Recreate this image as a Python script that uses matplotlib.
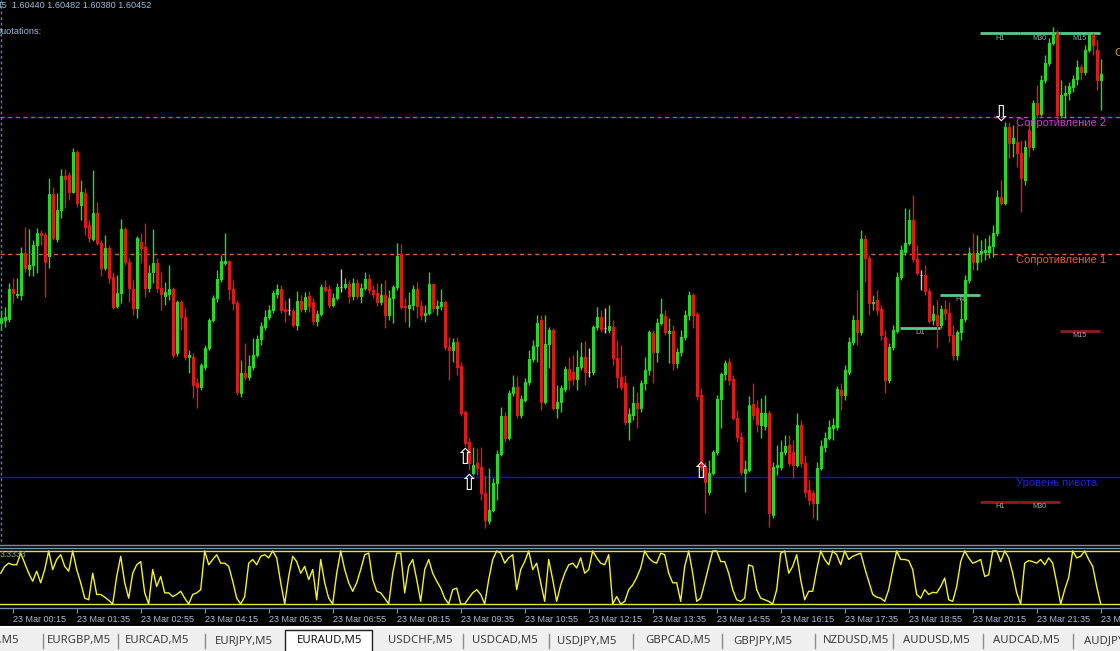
import numpy as np
import matplotlib
matplotlib.use("Agg")
import matplotlib.pyplot as plt
from matplotlib.patches import Rectangle
from matplotlib.lines import Line2D

# ---------------- data ----------------
symbol = "EURAUD,M5"
opens = [
    1.59954, 1.59960, 1.59962, 1.60022, 1.60010, 1.60010, 1.60094, 1.60062, 1.60070, 1.60110,
    1.60134, 1.60130, 1.60088, 1.60212, 1.60122, 1.60180, 1.60248, 1.60250, 1.60216, 1.60296,
    1.60190, 1.60214, 1.60150, 1.60122, 1.60174, 1.60114, 1.60064, 1.60104, 1.60046, 1.59988,
    1.60014, 1.60142, 1.60076, 1.60022, 1.59984, 1.60116, 1.60106, 1.60024, 1.60056, 1.60074,
    1.60024, 1.60008, 1.60012, 1.60022, 1.59894, 1.59996, 1.59966, 1.59886, 1.59886, 1.59834,
    1.59826, 1.59866, 1.59904, 1.59960, 1.60004, 1.60042, 1.60074, 1.60078, 1.60022, 1.59994,
    1.59814, 1.59854, 1.59846, 1.59866, 1.59890, 1.59922, 1.59946, 1.59966, 1.59980, 1.60012,
    1.60022, 1.59982, 1.59980, 1.59978, 1.59950, 1.59998, 1.59982, 1.60008, 1.59996, 1.59958,
    1.59972, 1.60026, 1.60022, 1.59990, 1.60004, 1.60026, 1.60026, 1.60032, 1.60008, 1.60034,
    1.60008, 1.60024, 1.60042, 1.60020, 1.60014, 1.59996, 1.60010, 1.59970, 1.60004, 1.60026,
    1.60092, 1.59988, 1.59984, 1.59990, 1.60022, 1.59988, 1.59970, 1.59974, 1.60032, 1.59984,
    1.59988, 1.59996, 1.59906, 1.59900, 1.59916, 1.59868, 1.59776, 1.59716, 1.59654, 1.59674,
    1.59666, 1.59614, 1.59558, 1.59580, 1.59634, 1.59692, 1.59768, 1.59724, 1.59814, 1.59826,
    1.59770, 1.59800, 1.59836, 1.59882, 1.59908, 1.59960, 1.59796, 1.59912, 1.59940, 1.59784,
    1.59796, 1.59822, 1.59862, 1.59856, 1.59842, 1.59866, 1.59886, 1.59856, 1.59856, 1.59946,
    1.59966, 1.59944, 1.59940, 1.59946, 1.59884, 1.59846, 1.59834, 1.59756, 1.59770, 1.59794,
    1.59784, 1.59834, 1.59860, 1.59934, 1.59896, 1.59954, 1.59968, 1.59934, 1.59938, 1.59874,
    1.59896, 1.59926, 1.59970, 1.60010, 1.59972, 1.59810, 1.59666, 1.59616, 1.59654, 1.59696,
    1.59802, 1.59852, 1.59876, 1.59842, 1.59764, 1.59726, 1.59654, 1.59660, 1.59792, 1.59784,
    1.59750, 1.59748, 1.59774, 1.59570, 1.59666, 1.59666, 1.59696, 1.59710, 1.59696, 1.59670,
    1.59750, 1.59674, 1.59620, 1.59614, 1.59594, 1.59664, 1.59706, 1.59724, 1.59744, 1.59746,
    1.59820, 1.59810, 1.59856, 1.59916, 1.59960, 1.59936, 1.60122, 1.60084, 1.59994, 1.60000,
    1.59982, 1.59926, 1.59840, 1.59906, 1.59938, 1.60046, 1.60096, 1.60114, 1.60160, 1.60082,
    1.60050, 1.60050, 1.60018, 1.59960, 1.59970, 1.59950, 1.59982, 1.59974, 1.59930, 1.59890,
    1.59936, 1.59962, 1.60040, 1.60094, 1.60076, 1.60094, 1.60096, 1.60096, 1.60108, 1.60134,
    1.60206, 1.60194, 1.60346, 1.60314, 1.60316, 1.60294, 1.60240, 1.60340, 1.60306, 1.60394,
    1.60372, 1.60440, 1.60474, 1.60514, 1.60534, 1.60370, 1.60410, 1.60414, 1.60426, 1.60442,
    1.60466, 1.60456, 1.60500, 1.60530, 1.60500, 1.60440,
]
highs = [
    1.59980, 1.59986, 1.60034, 1.60044, 1.60044, 1.60106, 1.60146, 1.60142, 1.60120, 1.60144,
    1.60140, 1.60136, 1.60244, 1.60226, 1.60214, 1.60262, 1.60262, 1.60256, 1.60304, 1.60300,
    1.60240, 1.60224, 1.60160, 1.60260, 1.60196, 1.60120, 1.60130, 1.60110, 1.60056, 1.60050,
    1.60162, 1.60146, 1.60084, 1.60040, 1.60128, 1.60134, 1.60154, 1.60070, 1.60142, 1.60084,
    1.60056, 1.60036, 1.60070, 1.60026, 1.60000, 1.60000, 1.59984, 1.59900, 1.59894, 1.59844,
    1.59874, 1.59910, 1.59964, 1.60010, 1.60060, 1.60090, 1.60134, 1.60080, 1.60040, 1.60000,
    1.59880, 1.59914, 1.59890, 1.59924, 1.59930, 1.59956, 1.59980, 1.59990, 1.60020, 1.60032,
    1.60030, 1.60000, 1.60004, 1.59984, 1.60018, 1.60010, 1.60016, 1.60018, 1.60004, 1.59980,
    1.60032, 1.60040, 1.60030, 1.60014, 1.60034, 1.60062, 1.60044, 1.60040, 1.60044, 1.60042,
    1.60034, 1.60056, 1.60052, 1.60030, 1.60034, 1.60034, 1.60040, 1.60020, 1.60030, 1.60114,
    1.60112, 1.60004, 1.60016, 1.60030, 1.60036, 1.60000, 1.59990, 1.60056, 1.60032, 1.60000,
    1.60022, 1.60000, 1.59926, 1.59924, 1.59926, 1.59876, 1.59780, 1.59724, 1.59706, 1.59704,
    1.59706, 1.59650, 1.59664, 1.59644, 1.59700, 1.59786, 1.59776, 1.59820, 1.59850, 1.59848,
    1.59810, 1.59844, 1.59900, 1.59920, 1.59970, 1.59970, 1.59970, 1.59946, 1.59944, 1.59830,
    1.59830, 1.59868, 1.59886, 1.59890, 1.59900, 1.59916, 1.59918, 1.59904, 1.59950, 1.59986,
    1.59980, 1.59984, 1.59990, 1.59960, 1.59920, 1.59910, 1.59850, 1.59784, 1.59828, 1.59816,
    1.59840, 1.59886, 1.59940, 1.59940, 1.59964, 1.60004, 1.59980, 1.59964, 1.59950, 1.59904,
    1.59940, 1.59980, 1.60018, 1.60014, 1.59976, 1.59824, 1.59676, 1.59680, 1.59700, 1.59810,
    1.59856, 1.59880, 1.59884, 1.59850, 1.59780, 1.59736, 1.59680, 1.59808, 1.59834, 1.59800,
    1.59804, 1.59810, 1.59780, 1.59676, 1.59710, 1.59720, 1.59730, 1.59730, 1.59720, 1.59774,
    1.59760, 1.59690, 1.59640, 1.59620, 1.59676, 1.59720, 1.59736, 1.59760, 1.59764, 1.59828,
    1.59834, 1.59870, 1.59926, 1.59970, 1.60020, 1.60140, 1.60130, 1.60090, 1.60010, 1.60020,
    1.59990, 1.59940, 1.59914, 1.59950, 1.60056, 1.60110, 1.60184, 1.60182, 1.60210, 1.60110,
    1.60060, 1.60070, 1.60024, 1.59990, 1.60000, 1.59990, 1.60000, 1.59996, 1.59950, 1.59940,
    1.60000, 1.60050, 1.60106, 1.60134, 1.60130, 1.60120, 1.60124, 1.60130, 1.60150, 1.60220,
    1.60240, 1.60356, 1.60356, 1.60350, 1.60350, 1.60320, 1.60320, 1.60360, 1.60400, 1.60430,
    1.60450, 1.60490, 1.60524, 1.60546, 1.60540, 1.60440, 1.60430, 1.60436, 1.60450, 1.60480,
    1.60472, 1.60510, 1.60536, 1.60534, 1.60520, 1.60482,
]
lows = [
    1.59940, 1.59946, 1.59956, 1.59994, 1.60004, 1.60000, 1.60056, 1.60048, 1.60048, 1.60054,
    1.60110, 1.60006, 1.60064, 1.60120, 1.60116, 1.60164, 1.60184, 1.60200, 1.60214, 1.60186,
    1.60160, 1.60130, 1.60116, 1.60118, 1.60110, 1.60048, 1.60060, 1.60034, 1.59982, 1.59984,
    1.59994, 1.60070, 1.59996, 1.59970, 1.59964, 1.60074, 1.60006, 1.60016, 1.60034, 1.60016,
    1.59980, 1.59990, 1.60000, 1.59884, 1.59888, 1.59940, 1.59880, 1.59854, 1.59804, 1.59784,
    1.59820, 1.59860, 1.59900, 1.59956, 1.59996, 1.60036, 1.60070, 1.60000, 1.59980, 1.59810,
    1.59806, 1.59840, 1.59840, 1.59860, 1.59886, 1.59910, 1.59940, 1.59960, 1.59974, 1.60004,
    1.59974, 1.59956, 1.59970, 1.59946, 1.59940, 1.59976, 1.59976, 1.59976, 1.59950, 1.59948,
    1.59968, 1.60016, 1.59984, 1.59986, 1.60000, 1.60016, 1.60022, 1.59994, 1.60000, 1.60002,
    1.59994, 1.60020, 1.60014, 1.60004, 1.59988, 1.59990, 1.59944, 1.59960, 1.59954, 1.60020,
    1.59982, 1.59956, 1.59946, 1.59980, 1.59964, 1.59960, 1.59956, 1.59970, 1.59976, 1.59970,
    1.59980, 1.59900, 1.59840, 1.59876, 1.59850, 1.59768, 1.59708, 1.59660, 1.59650, 1.59650,
    1.59600, 1.59544, 1.59552, 1.59576, 1.59600, 1.59688, 1.59716, 1.59720, 1.59808, 1.59764,
    1.59764, 1.59796, 1.59830, 1.59876, 1.59876, 1.59780, 1.59792, 1.59864, 1.59780, 1.59764,
    1.59776, 1.59816, 1.59820, 1.59830, 1.59820, 1.59860, 1.59830, 1.59846, 1.59850, 1.59940,
    1.59936, 1.59934, 1.59934, 1.59870, 1.59824, 1.59820, 1.59750, 1.59720, 1.59760, 1.59744,
    1.59776, 1.59820, 1.59850, 1.59834, 1.59876, 1.59950, 1.59930, 1.59874, 1.59860, 1.59864,
    1.59888, 1.59920, 1.59960, 1.59944, 1.59800, 1.59660, 1.59574, 1.59610, 1.59650, 1.59690,
    1.59744, 1.59840, 1.59830, 1.59760, 1.59716, 1.59650, 1.59616, 1.59656, 1.59760, 1.59736,
    1.59724, 1.59740, 1.59546, 1.59564, 1.59650, 1.59660, 1.59690, 1.59668, 1.59644, 1.59666,
    1.59666, 1.59606, 1.59590, 1.59564, 1.59560, 1.59660, 1.59696, 1.59720, 1.59720, 1.59740,
    1.59780, 1.59800, 1.59850, 1.59910, 1.59910, 1.59930, 1.60036, 1.59970, 1.59980, 1.59970,
    1.59920, 1.59814, 1.59834, 1.59900, 1.59934, 1.60040, 1.60090, 1.60110, 1.60076, 1.60050,
    1.60020, 1.60010, 1.59954, 1.59950, 1.59904, 1.59944, 1.59960, 1.59916, 1.59880, 1.59880,
    1.59920, 1.59956, 1.60034, 1.60060, 1.60060, 1.60076, 1.60080, 1.60084, 1.60086, 1.60128,
    1.60190, 1.60190, 1.60284, 1.60286, 1.60266, 1.60176, 1.60230, 1.60286, 1.60300, 1.60364,
    1.60368, 1.60434, 1.60468, 1.60510, 1.60360, 1.60364, 1.60364, 1.60400, 1.60416, 1.60430,
    1.60440, 1.60450, 1.60496, 1.60490, 1.60420, 1.60380,
]
closes = [
    1.59964, 1.59966, 1.60022, 1.60014, 1.60012, 1.60094, 1.60064, 1.60070, 1.60110, 1.60134,
    1.60130, 1.60076, 1.60212, 1.60124, 1.60180, 1.60248, 1.60242, 1.60216, 1.60296, 1.60194,
    1.60216, 1.60146, 1.60124, 1.60174, 1.60114, 1.60064, 1.60104, 1.60044, 1.59986, 1.60014,
    1.60142, 1.60076, 1.60024, 1.59984, 1.60124, 1.60104, 1.60024, 1.60054, 1.60074, 1.60024,
    1.60012, 1.60016, 1.60022, 1.59890, 1.59996, 1.59966, 1.59886, 1.59890, 1.59830, 1.59826,
    1.59870, 1.59904, 1.59960, 1.60004, 1.60042, 1.60078, 1.60078, 1.60022, 1.59994, 1.59816,
    1.59854, 1.59846, 1.59868, 1.59890, 1.59922, 1.59948, 1.59966, 1.59980, 1.60014, 1.60022,
    1.59980, 1.59978, 1.59980, 1.59950, 1.59998, 1.59982, 1.60006, 1.59988, 1.59958, 1.59972,
    1.60026, 1.60020, 1.59990, 1.60004, 1.60026, 1.60026, 1.60032, 1.60008, 1.60034, 1.60008,
    1.60024, 1.60042, 1.60020, 1.60012, 1.59996, 1.60010, 1.59970, 1.60004, 1.60026, 1.60088,
    1.59986, 1.59986, 1.59990, 1.60022, 1.59988, 1.59970, 1.59974, 1.60032, 1.59984, 1.59988,
    1.59996, 1.59906, 1.59900, 1.59916, 1.59866, 1.59774, 1.59714, 1.59674, 1.59670, 1.59664,
    1.59614, 1.59560, 1.59580, 1.59634, 1.59692, 1.59768, 1.59724, 1.59814, 1.59826, 1.59770,
    1.59802, 1.59836, 1.59882, 1.59908, 1.59954, 1.59796, 1.59912, 1.59940, 1.59784, 1.59796,
    1.59824, 1.59862, 1.59840, 1.59842, 1.59866, 1.59886, 1.59856, 1.59856, 1.59946, 1.59966,
    1.59942, 1.59944, 1.59948, 1.59884, 1.59846, 1.59826, 1.59756, 1.59772, 1.59794, 1.59784,
    1.59834, 1.59860, 1.59936, 1.59896, 1.59954, 1.59972, 1.59936, 1.59938, 1.59874, 1.59896,
    1.59926, 1.59970, 1.60010, 1.59970, 1.59808, 1.59666, 1.59636, 1.59654, 1.59696, 1.59802,
    1.59852, 1.59874, 1.59840, 1.59764, 1.59726, 1.59656, 1.59662, 1.59790, 1.59770, 1.59752,
    1.59774, 1.59774, 1.59574, 1.59666, 1.59670, 1.59696, 1.59708, 1.59674, 1.59670, 1.59750,
    1.59674, 1.59616, 1.59600, 1.59594, 1.59664, 1.59708, 1.59724, 1.59746, 1.59750, 1.59822,
    1.59810, 1.59860, 1.59916, 1.59960, 1.59936, 1.60122, 1.60084, 1.59994, 1.59996, 1.59980,
    1.59930, 1.59840, 1.59906, 1.59940, 1.60046, 1.60100, 1.60114, 1.60160, 1.60082, 1.60054,
    1.60050, 1.60018, 1.59958, 1.59972, 1.59950, 1.59982, 1.59974, 1.59930, 1.59890, 1.59936,
    1.59962, 1.60040, 1.60094, 1.60076, 1.60094, 1.60098, 1.60100, 1.60108, 1.60134, 1.60206,
    1.60194, 1.60346, 1.60314, 1.60324, 1.60294, 1.60244, 1.60306, 1.60306, 1.60394, 1.60372,
    1.60440, 1.60474, 1.60514, 1.60534, 1.60370, 1.60410, 1.60414, 1.60428, 1.60442, 1.60466,
    1.60456, 1.60500, 1.60530, 1.60510, 1.60440, 1.60452,
]
# oscillator (0..100) shown in the lower window
osc = [
    58, 71, 77, 74, 74, 96, 77, 58, 43, 62,
    40, 65, 100, 65, 84, 93, 71, 62, 100, 65,
    40, 11, 8, 58, 18, 18, 13, 7, 0, 52,
    90, 40, 11, 58, 74, 80, 21, 0, 65, 33,
    52, 21, 21, 14, 18, 24, 11, 0, 18, 21,
    27, 100, 74, 84, 93, 77, 77, 71, 43, 11,
    0, 14, 77, 84, 74, 90, 93, 87, 100, 87,
    40, 0, 52, 90, 80, 58, 71, 46, 65, 8,
    84, 40, 11, 0, 58, 100, 65, 40, 24, 40,
    65, 93, 96, 46, 24, 21, 11, 0, 58, 96,
    96, 21, 71, 84, 46, 5, 65, 84, 58, 43,
    30, 11, 0, 27, 30, 0, 0, 11, 21, 27,
    18, 0, 46, 84, 100, 96, 77, 87, 93, 27,
    65, 80, 100, 65, 77, 40, 5, 84, 46, 5,
    36, 58, 74, 77, 68, 87, 58, 65, 100, 87,
    77, 74, 93, 0, 14, 0, 5, 27, 36, 50,
    68, 100, 87, 80, 77, 96, 93, 58, 40, 40,
    5, 71, 100, 58, 5, 11, 40, 71, 100, 100,
    80, 80, 58, 27, 8, 5, 11, 74, 71, 27,
    11, 8, 5, 0, 27, 96, 100, 58, 71, 93,
    46, 8, 24, 24, 65, 100, 84, 74, 100, 93,
    74, 100, 84, 90, 93, 96, 68, 43, 18, 13,
    11, 5, 27, 65, 100, 84, 84, 82, 65, 18,
    11, 27, 18, 22, 21, 33, 49, 8, 5, 33,
    80, 100, 87, 77, 80, 84, 52, 55, 100, 100,
    80, 100, 87, 58, 21, 0, 77, 82, 80, 77,
    84, 74, 87, 77, 40, 0, 27, 50, 100, 87,
    90, 100, 84, 71, 33, 0,
]
osc_levels = [100, 0]
osc_label = "3.3333"

time_labels = ["23 Mar 00:15", "23 Mar 01:35", "23 Mar 02:55", "23 Mar 04:15",
               "23 Mar 05:35", "23 Mar 06:55", "23 Mar 08:15", "23 Mar 09:35",
               "23 Mar 10:55", "23 Mar 12:15", "23 Mar 13:35", "23 Mar 14:55",
               "23 Mar 16:15", "23 Mar 17:35", "23 Mar 18:55", "23 Mar 20:15",
               "23 Mar 21:35", "23 Mar 22:55"]
time_label_bars = [3, 19, 35, 51, 67, 83, 99, 115, 131, 147, 163, 179, 195, 211, 227, 243, 259, 275]

# pivot levels
level_names = ["Сопротивление 2", "Сопротивление 1", "Уровень пивота"]
level_prices = [1.60366, 1.60092, 1.59646]
r3_name = "Сопротивление 3"
r3_price = 1.60506

# multi-timeframe level segments
mtf_names = ["D1", "H4", "H1", "M30", "M15", "H1", "M30", "M15"]
mtf_prices = [1.59944, 1.60010, 1.60534, 1.60534, 1.60534, 1.59596, 1.59596, 1.59938]
mtf_start = [225, 235, 245, 255, 265, 245, 255, 265]
mtf_kind = ["sup", "sup", "sup", "sup", "sup", "res", "res", "res"]

# signal arrows
arrow_bars = [116, 117, 175, 250]
arrow_prices = [1.59684, 1.59632, 1.59656, 1.60370]
arrow_dirs = ["up", "up", "up", "down"]

tab_labels = ["EURUSD,M5", "EURGBP,M5", "EURCAD,M5", "EURJPY,M5", "EURAUD,M5",
              "USDCHF,M5", "USDCAD,M5", "USDJPY,M5", "GBPCAD,M5", "GBPJPY,M5",
              "NZDUSD,M5", "AUDUSD,M5", "AUDCAD,M5", "AUDJPY,M5"]
active_tab = "EURAUD,M5"

# ---------------- layout / style ----------------
W, H = 1120, 651
BULL = "#2bd62b"
BEAR = "#dc1a1a"
DOJI = "#c8c8c8"
FRAME = "#7390b8"
LBL = "#a9bed6"

def fx(px):
    return px / W

def fy(py):
    return 1 - py / H

fig = plt.figure(figsize=(W / 100, H / 100), dpi=100, facecolor="black")

o = np.array(opens); h = np.array(highs); l = np.array(lows); c = np.array(closes)
n = len(c)
idx = np.arange(n)
xlim = (-0.175, 279.825)

# main price window
ax = fig.add_axes([0, fy(543), 1, 543 / H])
ax.set_facecolor("black")
ax.set_xlim(*xlim)
ax.set_ylim(1.59514, 1.60600)
for s in ax.spines.values():
    s.set_visible(False)
ax.set_xticks([]); ax.set_yticks([])

colors = np.where(c > o, BULL, np.where(c < o, BEAR, DOJI))
ax.vlines(idx, l, h, colors=colors, lw=1.0, zorder=4)
ax.bar(idx, np.abs(c - o), bottom=np.minimum(o, c), width=0.55,
       color=colors, edgecolor=colors, lw=0.8, zorder=5)

# pivot levels
lvl_colors = ["#c83cc8", "#e0632c", "#1414b4"]
lvl_text_colors = ["#d03ad0", "#e8602a", "#2020e0"]
lvl_styles = [(0, (3, 2.5)), (0, (3, 2.5)), "-"]
for name, p, lc, tc, ls in zip(level_names, level_prices, lvl_colors, lvl_text_colors, lvl_styles):
    ax.axhline(p, color=lc, lw=1.0, ls=ls, zorder=2)
    ax.text(253.8, p - 0.00012, name, color=tc, fontsize=8, family="Liberation Sans",
            ha="left", va="center", zorder=6)
ax.text(278.6, r3_price - 0.00012, r3_name, color="#d8a838", fontsize=8,
        family="Liberation Sans", ha="left", va="center", zorder=6, clip_on=False)

# MTF segments
for name, p, s0, kind in zip(mtf_names, mtf_prices, mtf_start, mtf_kind):
    col = "#5cc88e" if kind == "sup" else "#8e1c1c"
    ax.plot([s0 - 0.2, s0 + 9.8], [p, p], color=col, lw=2.0, zorder=3, solid_capstyle="butt")
    ax.text(s0 + 4.8, p - 0.0001, name, color="#a8a8a8", fontsize=5.2, family="Liberation Sans",
            ha="center", va="center", zorder=3)

# arrows
for b, p, d in zip(arrow_bars, arrow_prices, arrow_dirs):
    ax.text(b, p, "⇧" if d == "up" else "⇩", color="white", fontsize=16,
            family="DejaVu Sans", ha="center", va="center", zorder=7)

# oscillator window
ax2 = fig.add_axes([0, fy(608), 1, 60 / H])
ax2.set_facecolor("black")
ax2.set_xlim(*xlim)
ax2.set_ylim(-7.55, 105.66)
for k, s in ax2.spines.items():
    s.set_visible(k == "bottom")
ax2.spines["bottom"].set_color(FRAME)
ax2.spines["bottom"].set_linewidth(1.0)
for lv in osc_levels:
    ax2.axhline(lv, color="#e6e61e", lw=1.0, zorder=2)
ax2.plot(idx, osc, color="#f2f22a", lw=1.0, zorder=3)
ax2.set_yticks([])
ax2.set_xticks(time_label_bars)
ax2.set_xticklabels(time_labels, fontsize=6.5, family="Liberation Sans", color=LBL)
ax2.tick_params(axis="x", direction="out", length=3.5, width=0.8, color=FRAME, pad=1.2)
for t in ax2.get_xticklabels():
    t.set_ha("left")
ax2.text(0.0, 101, osc_label, color="#8fa88f", fontsize=6.3, family="Liberation Sans",
         ha="left", va="top", transform=ax2.get_yaxis_transform(), zorder=5)

# frame lines between windows
for py in (544.5, 548.0):
    fig.add_artist(Line2D([0, 1], [fy(py), fy(py)], color=FRAME, lw=1.0))
fig.add_artist(Line2D([fx(1), fx(1)], [fy(0), fy(543)], color="#5a7fb0", lw=1.0,
                      ls=(0, (2, 2))))

# header text
header = f"M5  {opens[-1]:.5f} {highs[-1]:.5f} {lows[-1]:.5f} {closes[-1]:.5f}"
fig.text(fx(-5.5), fy(6), header, color="#9cbadb", fontsize=6.6, family="Liberation Sans",
         ha="left", va="center")
fig.text(fx(-5), fy(31), "Quotations:", color="#9cbadb", fontsize=6.6,
         family="Liberation Sans", ha="left", va="center")

# tab bar
fig.add_artist(Rectangle((0, 0), 1, fy(627), transform=fig.transFigure,
                         facecolor="#f0f0f0", edgecolor="none"))
fig.add_artist(Line2D([0, 1], [fy(627), fy(627)], color="white", lw=1.5))
fig.add_artist(Rectangle((fx(285), -0.01), 87 / W, fy(630) + 0.01, transform=fig.transFigure,
                         facecolor="white", edgecolor="#202020", lw=1.0))
tab_centers = [-13, 78.5, 157.5, 244, 329.5, 420.5, 504.5, 587, 677.5, 762.5,
               856.5, 936.5, 1026.5, 1114]
seps = [43, 118, 205, 463, 549, 633, 722, 815, 893, 983, 1073]
for sx in seps:
    fig.add_artist(Line2D([fx(sx), fx(sx)], [fy(648), fy(634)], color="#8a8a8a", lw=1.0))
for lab, cx in zip(tab_labels, tab_centers):
    fig.text(fx(cx), fy(640.5), lab, color="#111111" if lab == active_tab else "#3a3a3a",
             fontsize=8.2, family="Noto Sans", ha="center", va="center")

fig.savefig("out.png", dpi=100, facecolor="black")
